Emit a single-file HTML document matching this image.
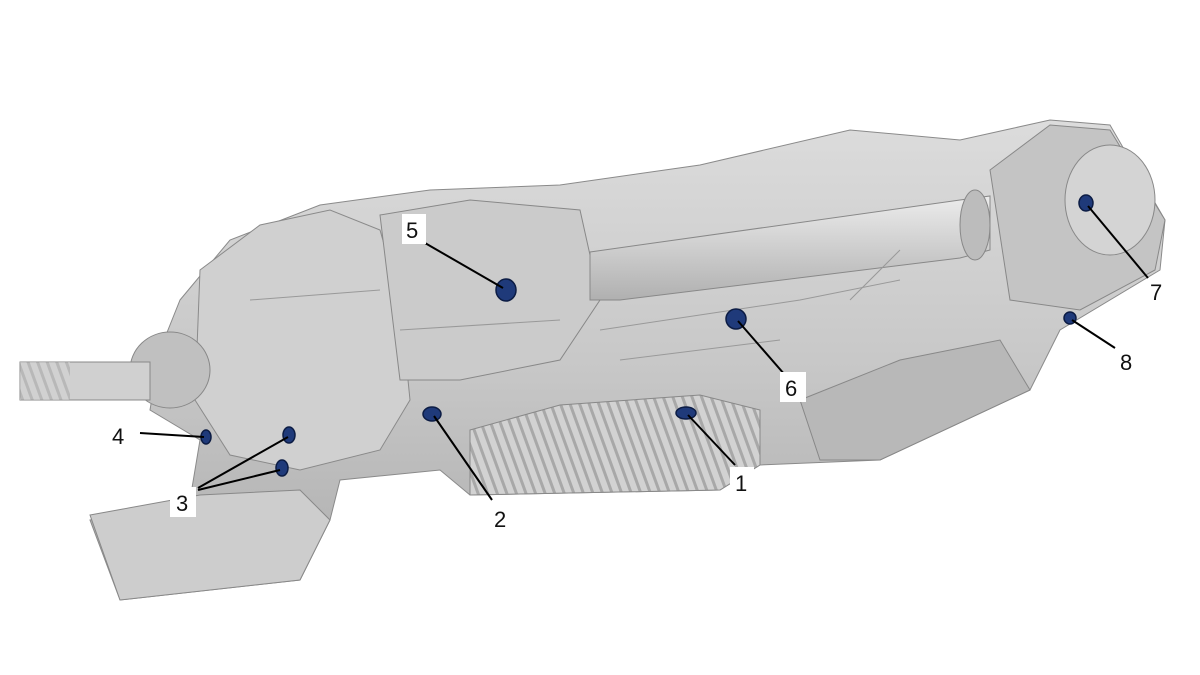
<!DOCTYPE html>
<html><head><meta charset="utf-8"><style>
html,body{margin:0;padding:0;background:#fff;}
svg{display:block;}
text{font-family:"Liberation Sans",Arial,sans-serif;font-size:22px;fill:#111;}
</style></head><body>
<svg width="1200" height="675" viewBox="0 0 1200 675" xmlns="http://www.w3.org/2000/svg">
<rect width="1200" height="675" fill="#fff"/>
<defs>
<linearGradient id="g1" x1="0" y1="0" x2="0" y2="1">
<stop offset="0" stop-color="#dcdcdc"/><stop offset="0.5" stop-color="#c8c8c8"/><stop offset="1" stop-color="#adadad"/>
</linearGradient>
<linearGradient id="tube" x1="0" y1="0" x2="0" y2="1">
<stop offset="0" stop-color="#ececec"/><stop offset="1" stop-color="#b0b0b0"/>
</linearGradient>
<pattern id="fins" width="9" height="9" patternUnits="userSpaceOnUse" patternTransform="rotate(-20)">
<rect width="9" height="9" fill="#d2d2d2"/><rect width="3" height="9" fill="#a8a8a8"/>
</pattern>
</defs>
<polygon fill="url(#g1)" stroke="#8a8a8a" points="180,300 230,240 320,205 430,190 560,185 700,165 850,130 960,140 1050,120 1110,125 1165,220 1160,270 1060,330 1030,390 880,460 760,465 720,490 470,495 440,470 340,480 330,520 300,580 120,600 90,520 190,500 200,440 150,410 160,350"/>
<polygon fill="#d0d0d0" stroke="#8a8a8a" points="200,270 260,225 330,210 380,230 400,300 410,400 380,450 300,470 230,455 195,400"/>
<ellipse cx="170" cy="370" rx="40" ry="38" fill="#c0c0c0" stroke="#888"/>
<rect x="20" y="362" width="130" height="38" fill="#d0d0d0" stroke="#888"/>
<rect x="20" y="362" width="50" height="38" fill="url(#fins)" opacity="0.6"/>
<polygon fill="#cbcbcb" stroke="#888" points="380,215 470,200 580,210 600,300 560,360 460,380 400,380"/>
<polygon fill="url(#tube)" stroke="#888" points="590,252 960,200 990,196 990,250 960,258 620,300 590,300"/>
<ellipse cx="975" cy="225" rx="15" ry="35" fill="#bcbcbc" stroke="#888"/>
<polygon fill="#c4c4c4" stroke="#888" points="990,170 1050,125 1110,130 1165,220 1155,270 1080,310 1010,300"/>
<ellipse cx="1110" cy="200" rx="45" ry="55" fill="#d4d4d4" stroke="#888"/>
<polygon fill="url(#fins)" stroke="#888" points="470,430 560,405 700,395 760,410 760,465 720,490 470,495"/>
<polygon fill="#b8b8b8" stroke="#888" points="800,400 900,360 1000,340 1030,390 880,460 820,460"/>
<g stroke="#999" stroke-width="1" fill="none">
<path d="M600,330 L800,300 L900,280"/><path d="M620,360 L780,340"/><path d="M850,300 L900,250"/>
<path d="M400,330 L560,320"/><path d="M250,300 L380,290"/>
</g>
<polygon fill="#cdcdcd" stroke="#888" points="90,515 200,495 300,490 330,520 300,580 120,600"/>
<g fill="#1f3a7a" stroke="#0c1c44" stroke-width="1.5">
<ellipse cx="506" cy="290" rx="10" ry="11"/>
<ellipse cx="736" cy="319" rx="10" ry="10"/>
<ellipse cx="686" cy="413" rx="10" ry="6"/>
<ellipse cx="432" cy="414" rx="9" ry="7"/>
<ellipse cx="289" cy="435" rx="6" ry="8"/>
<ellipse cx="282" cy="468" rx="6" ry="8"/>
<ellipse cx="206" cy="437" rx="5" ry="7"/>
<ellipse cx="1086" cy="203" rx="7" ry="8"/>
<ellipse cx="1070" cy="318" rx="6" ry="6"/>
</g>
<g stroke="#000" stroke-width="2" fill="none">
<line x1="425" y1="243" x2="503" y2="288"/>
<line x1="785" y1="375" x2="738" y2="321"/>
<line x1="735" y1="465" x2="688" y2="415"/>
<line x1="492" y1="500" x2="434" y2="416"/>
<line x1="198" y1="488" x2="288" y2="437"/>
<line x1="198" y1="490" x2="280" y2="470"/>
<line x1="140" y1="433" x2="204" y2="437"/>
<line x1="1148" y1="278" x2="1088" y2="206"/>
<line x1="1115" y1="348" x2="1072" y2="320"/>
</g>
<g>
<rect x="402" y="214" width="24" height="30" fill="#fff"/><text x="406" y="238">5</text>
<rect x="780" y="372" width="26" height="30" fill="#fff"/><text x="785" y="396">6</text>
<rect x="730" y="467" width="24" height="30" fill="#fff"/><text x="735" y="491">1</text>
<rect x="488" y="503" width="26" height="30" fill="#fff"/><text x="494" y="527">2</text>
<rect x="170" y="487" width="26" height="30" fill="#fff"/><text x="176" y="511">3</text>
<text x="112" y="444">4</text>
<text x="1150" y="300">7</text>
<text x="1120" y="370">8</text>
</g>
</svg>
</body></html>
